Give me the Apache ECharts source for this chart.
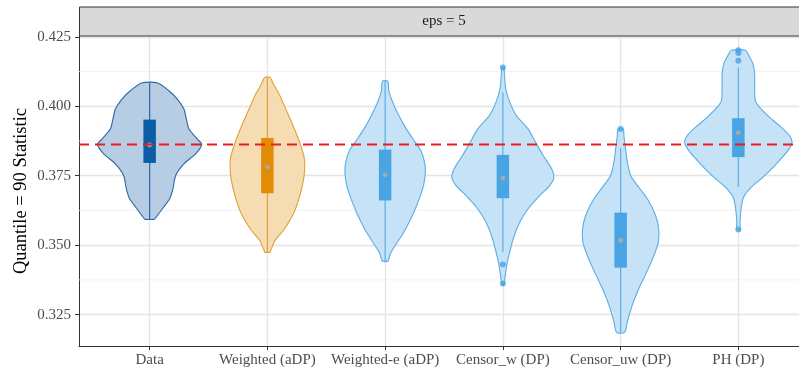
<!DOCTYPE html>
<html>
<head>
<meta charset="utf-8">
<script src="https://cdn.jsdelivr.net/npm/echarts@6/dist/echarts.min.js"></script>
<style>html,body{margin:0;padding:0;background:#fff}#c{width:799px;height:375px}</style>
</head>
<body>
<div id="c"></div>
<script>
// ---- data ----
const categories = ['Data', 'Weighted (aDP)', 'Weighted-e (aDP)', 'Censor_w (DP)', 'Censor_uw (DP)', 'PH (DP)'];
const yTicks = [0.325, 0.350, 0.375, 0.400, 0.425];
const yMinor = [0.3375, 0.3625, 0.3875, 0.4125];
const refValue = 0.3862;
const stripLabel = 'eps = 5';
const yTitle = 'Quantile = 90 Statistic';

// violin outlines: [value, half-width in category units], top to bottom
const violinData = [
  [0.4084,0.068],[0.4056,0.164],[0.4026,0.235],[0.3990,0.291],[0.3954,0.312],[0.3918,0.334],[0.3882,0.405],[0.3862,0.442],[0.3829,0.391],[0.3793,0.291],[0.3751,0.221],[0.3703,0.198],[0.3667,0.170],[0.3631,0.108],[0.3595,0.045],[0.3593,0.038]
];
const violinWeighted = [
  [0.4104,0.023],[0.4080,0.051],[0.4044,0.099],[0.3996,0.150],[0.3936,0.212],[0.3876,0.269],[0.3817,0.312],[0.3781,0.317],[0.3733,0.306],[0.3673,0.272],[0.3613,0.221],[0.3553,0.136],[0.3517,0.065],[0.3481,0.028],[0.3475,0.023]
];
const violinWeightedE = [
  [0.4090,0.023],[0.4056,0.031],[0.4020,0.059],[0.3972,0.110],[0.3924,0.172],[0.3876,0.246],[0.3841,0.303],[0.3805,0.331],[0.3769,0.342],[0.3721,0.329],[0.3673,0.295],[0.3613,0.238],[0.3553,0.167],[0.3505,0.096],[0.3470,0.045],[0.3443,0.025]
];
const violinCensorW = [
  [0.4140,0.008],[0.4110,0.014],[0.4062,0.025],[0.4014,0.059],[0.3966,0.116],[0.3918,0.215],[0.3870,0.278],[0.3823,0.342],[0.3775,0.414],[0.3745,0.433],[0.3715,0.399],[0.3679,0.314],[0.3631,0.215],[0.3583,0.144],[0.3523,0.088],[0.3463,0.051],[0.3416,0.028],[0.3380,0.017],[0.3356,0.004]
];
const violinCensorUW = [
  [0.3918,0.023],[0.3894,0.028],[0.3847,0.042],[0.3799,0.057],[0.3751,0.085],[0.3715,0.142],[0.3667,0.227],[0.3607,0.297],[0.3559,0.323],[0.3511,0.320],[0.3463,0.283],[0.3403,0.221],[0.3344,0.155],[0.3284,0.099],[0.3224,0.057],[0.3186,0.034]
];
const violinPH = [
  [0.4202,0.059],[0.4188,0.082],[0.4152,0.125],[0.4116,0.138],[0.4068,0.138],[0.4020,0.144],[0.3996,0.181],[0.3960,0.266],[0.3924,0.365],[0.3894,0.436],[0.3870,0.456],[0.3841,0.422],[0.3793,0.323],[0.3745,0.210],[0.3709,0.110],[0.3673,0.045],[0.3637,0.025],[0.3589,0.014],[0.3556,0.013]
];
const violins = [violinData, violinWeighted, violinWeightedE, violinCensorW, violinCensorUW, violinPH];

// box stats: [whisker low, q1, median, q3, whisker high]
const boxStats = [
  [0.3593, 0.3796, 0.3861, 0.3952, 0.4084],
  [0.3475, 0.3687, 0.3781, 0.3886, 0.4104],
  [0.3443, 0.3661, 0.3753, 0.3844, 0.4090],
  [0.3475, 0.3669, 0.3741, 0.3825, 0.4050],
  [0.3186, 0.3419, 0.3517, 0.3617, 0.3849],
  [0.3709, 0.3817, 0.3905, 0.3957, 0.4140]
];
// outliers: [category index, value]
const outliers = [
  [3, 0.4140], [3, 0.3430], [3, 0.3362],
  [4, 0.3918],
  [5, 0.4202], [5, 0.4192], [5, 0.4164], [5, 0.3556]
];

// ---- styles ----
const fills   = ['#b6cde3', '#f6dcb2', '#c6e2f6', '#c6e2f6', '#c6e2f6', '#c6e2f6'];
const strokes = ['#2b67a6', '#e0a13a', '#5aaee6', '#5aaee6', '#5aaee6', '#5aaee6'];
const boxCols = ['#0b5ea6', '#e28c06', '#48a4e3', '#48a4e3', '#48a4e3', '#48a4e3'];
const BOX_HW = 0.053;
const FONT = '"Liberation Serif", "DejaVu Serif", serif';

const chart = echarts.init(document.getElementById('c'), null, {renderer: 'canvas'});

function renderViolin(params, api) {
  const i = api.value(0);
  const prof = violins[i];
  const left = [], right = [];
  prof.forEach(function (p) {
    left.push(api.coord([i - p[1], p[0]]));
    right.push(api.coord([i + p[1], p[0]]));
  });
  const pts = left.concat(right.reverse());
  const b = boxStats[i];
  const wTop = api.coord([i, b[4]]);
  const wBot = api.coord([i, b[0]]);
  const bTL = api.coord([i - BOX_HW, b[3]]);
  const bBR = api.coord([i + BOX_HW, b[1]]);
  const med = api.coord([i, b[2]]);
  return {
    type: 'group',
    children: [
      {type: 'polygon', shape: {points: pts, smooth: 0.25},
       style: {fill: fills[i], stroke: strokes[i], lineWidth: 1.1}},
      {type: 'line', shape: {x1: wTop[0], y1: wTop[1], x2: wBot[0], y2: wBot[1]},
       style: {stroke: strokes[i], lineWidth: 1.2}},
      {type: 'rect', shape: {x: bTL[0], y: bTL[1], width: bBR[0] - bTL[0], height: bBR[1] - bTL[1]},
       style: {fill: boxCols[i]}},
      {type: 'circle', shape: {cx: med[0], cy: med[1], r: 2.4},
       style: {fill: '#a9a9a9'}}
    ]
  };
}

function renderHLine(stroke, width, dash) {
  return function (params, api) {
    const v = api.value(0);
    const cs = params.coordSys;
    const p = api.coord([0, v]);
    return {type: 'line', shape: {x1: cs.x, y1: p[1], x2: cs.x + cs.width, y2: p[1]},
            style: {stroke: stroke, lineWidth: width, lineDash: dash}};
  };
}

const option = {
  animation: false,
  backgroundColor: '#ffffff',
  grid: {left: 79, right: 0, top: 36, bottom: 29, containLabel: false},
  xAxis: {
    type: 'value', min: -0.6, max: 5.515,
    axisLine: {show: true, onZero: false, lineStyle: {color: '#333333', width: 1}},
    axisTick: {show: true, length: 4, customValues: [0, 1, 2, 3, 4, 5], lineStyle: {color: '#333333'}},
    axisLabel: {customValues: [0, 1, 2, 3, 4, 5], margin: 7, color: '#4d4d4d', fontFamily: FONT, fontSize: 15,
                formatter: function (v) { return categories[Math.round(v)]; }},
    splitLine: {show: true, lineStyle: {color: '#e4e4e4', width: 1.3}}
  },
  yAxis: {
    type: 'value', min: 0.3137, max: 0.4253,
    name: yTitle, nameLocation: 'middle', nameGap: 48, nameRotate: 90, nameMoveOverlap: false,
    nameTextStyle: {color: '#000', fontFamily: FONT, fontSize: 18.5},
    axisLine: {show: true, onZero: false, lineStyle: {color: '#333333', width: 1}},
    axisTick: {show: true, length: 4, customValues: yTicks, lineStyle: {color: '#333333'}},
    axisLabel: {customValues: yTicks, margin: 8, color: '#4d4d4d', fontFamily: FONT, fontSize: 15,
                formatter: function (v) { return v.toFixed(3); }},
    splitLine: {show: true, lineStyle: {color: '#e4e4e4', width: 1.3}}
  },
  graphic: [
    {type: 'rect', z: 100, shape: {x: 79.5, y: 7, width: 740, height: 29},
     style: {fill: '#d9d9d9', stroke: '#333333', lineWidth: 1}},
    {type: 'text', z: 101, x: 444, y: 21.5,
     style: {text: stripLabel, fill: '#1a1a1a', font: '15px ' + FONT, textAlign: 'center', textVerticalAlign: 'middle'}}
  ],
  series: [
    {type: 'custom', silent: true, z: 1, data: yMinor.map(function (v) { return [v]; }),
     renderItem: renderHLine('#eeeeee', 0.8, null), encode: {y: 0}, clip: true},
    {type: 'custom', silent: true, z: 3, data: categories.map(function (c, i) { return [i]; }),
     renderItem: renderViolin, encode: {x: 0}, clip: true},
    {type: 'scatter', silent: true, z: 4, symbolSize: 6,
     data: outliers.map(function (o) { return {value: o, itemStyle: {color: boxCols[o[0]]}}; })},
    {type: 'custom', silent: true, z: 10, data: [[refValue]],
     renderItem: renderHLine('#ee1b1b', 2, [10, 6]), encode: {y: 0}, clip: true}
  ]
};
chart.setOption(option);
</script>
</body>
</html>
